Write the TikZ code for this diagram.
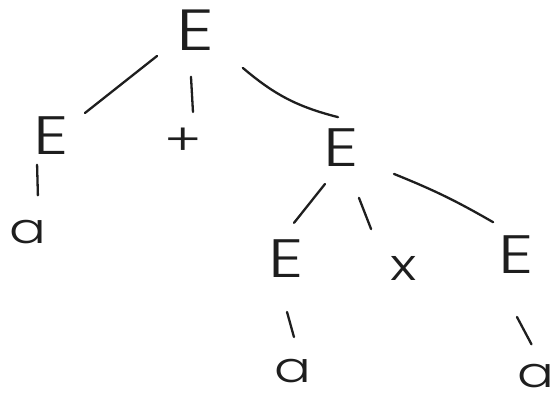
\documentclass[tikz,border=0pt]{standalone}
\usepackage{fontspec}
\newfontfamily\hand{Poppins Light}[FakeStretch=1.3]
\usetikzlibrary{calc}
\definecolor{ink}{HTML}{1E1E1E}
\begin{document}
\begin{tikzpicture}[x=1pt,y=1pt,
  sym/.style={inner sep=0pt, text=ink, font=\hand\fontsize{54}{54}\selectfont},
  bigsym/.style={sym, font=\hand\fontsize{58}{58}\selectfont},
  leaf/.style={sym, font=\hand\fontsize{42}{42}\selectfont},
  opsym/.style={sym, font=\hand\fontsize{44}{44}\selectfont},
  edge/.style={draw=ink, line width=2.3pt, line cap=round}]
\useasboundingbox[fill=white] (0,0) rectangle (554,393);
% nodes
\node[bigsym] (root) at (195,363) {E};
\node[sym]    (L)    at (51,257)  {E};
\node[opsym]  (plus) at (183,251) {+};
\node[sym]    (R)    at (341,245) {E};
\node[leaf]   (La)   at (28,161)  {a};
\node[sym]    (M)    at (286,134) {E};
\node[opsym]  (X)    at (404,125) {x};
\node[sym]    (RE)   at (516,138) {E};
\node[leaf]   (Ma)   at (293,22)  {a};
\node[leaf]   (REa)  at (536,17)  {a};
% connectors
\draw[edge] ($(root)+(-145.6:46)$) -- ($(L)+(34.1:41)$);
\draw[edge] ($(root)+(265.1:47)$) -- ($(plus)+(71.6:31.6)$);
\draw[edge] ($(root)+(-38.4:61)$) to[bend right=13] ($(R)+(95.5:31)$);
\draw[edge] ($(L)+(-115.8:32)$) -- ($(La)+(74.9:38)$);
\draw[edge] ($(R)+(246:39.4)$) -- ($(M)+(77.5:37)$);
\draw[edge] ($(R)+(-70.2:53)$) -- ($(X)+(130.2:51)$);
\draw[edge] ($(R)+(-26.1:59)$) to[bend left=4] ($(RE)+(124.9:40)$);
\draw[edge] ($(M)+(-88.9:53)$) -- ($(Ma)+(88.4:34)$);
\draw[edge] ($(RE)+(-89.1:62)$) -- ($(REa)+(98.1:32)$);
\end{tikzpicture}
\end{document}
